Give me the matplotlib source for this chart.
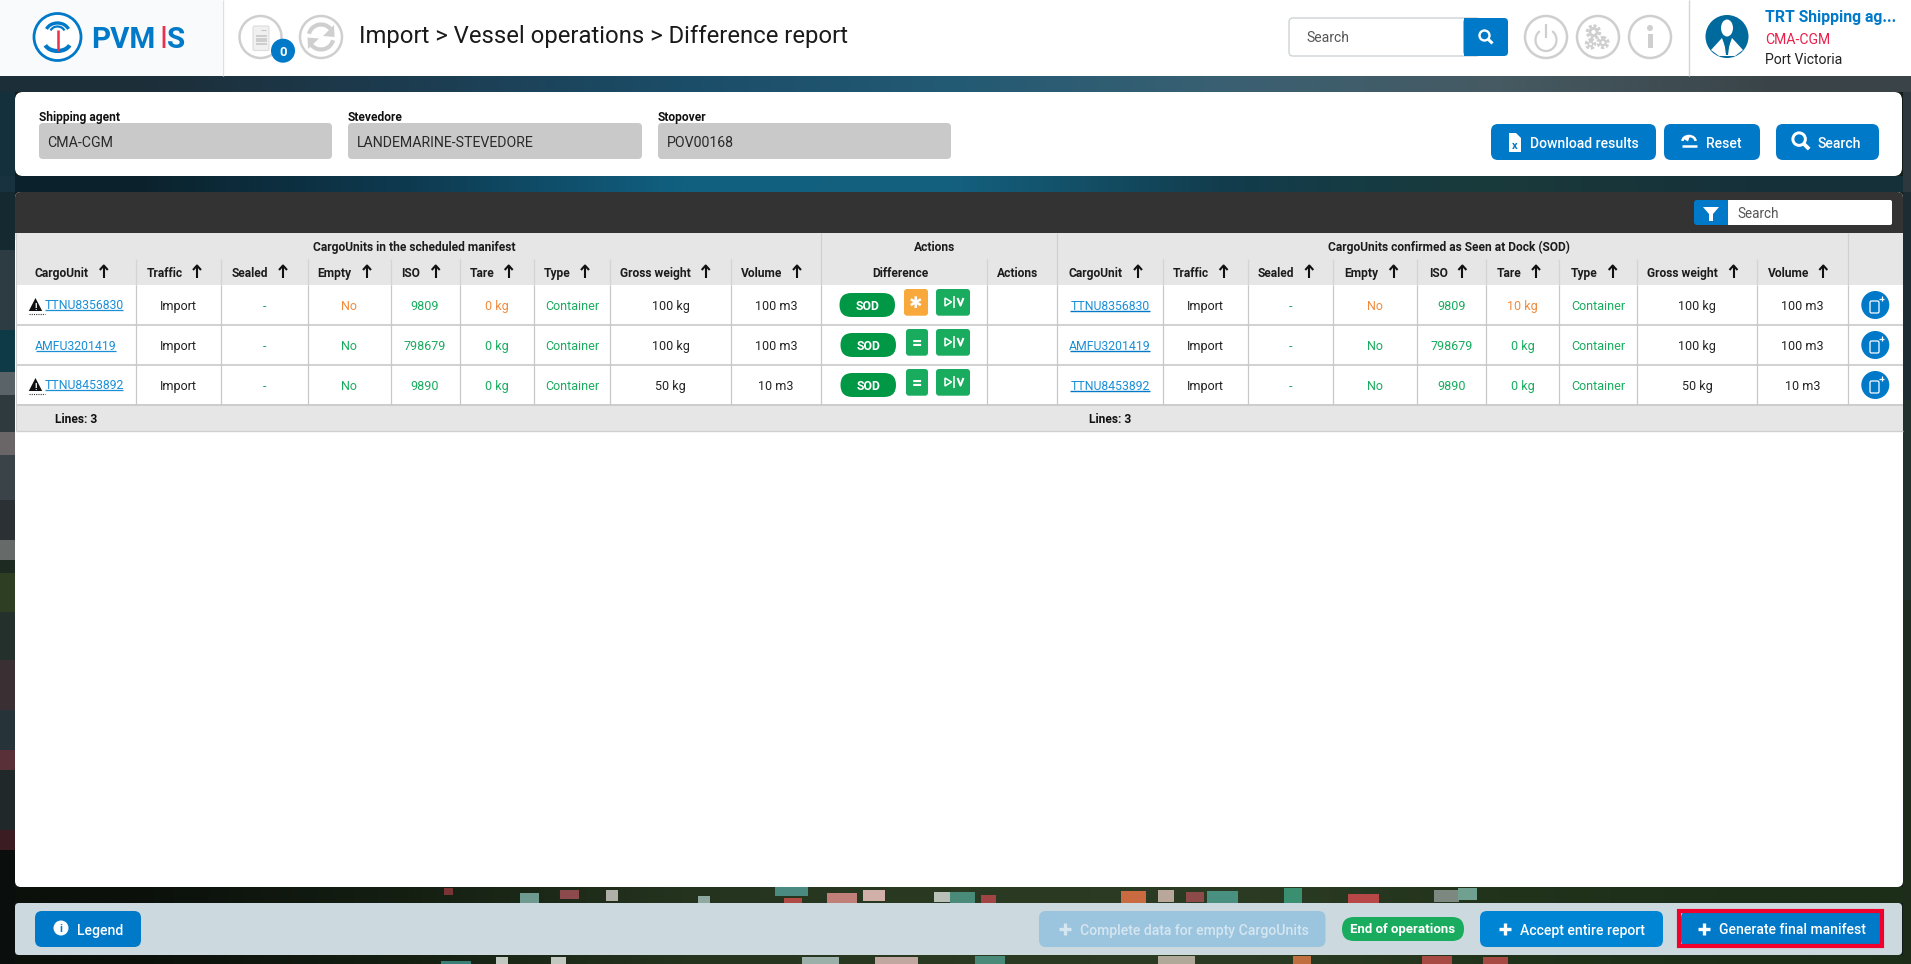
import numpy as np
import matplotlib
matplotlib.use("Agg")
import matplotlib.pyplot as plt
from matplotlib.patches import FancyBboxPatch, Circle, Rectangle, Polygon, Arc, Ellipse

# ---------- content ----------
title = "Import > Vessel operations > Difference report"
filter_labels = ["Shipping agent", "Stevedore", "Stopover"]
filter_values = ["CMA-CGM", "LANDEMARINE-STEVEDORE", "POV00168"]
user_lines = ["TRT Shipping ag...", "CMA-CGM", "Port Victoria"]
top_buttons = ["Download results", "Reset", "Search"]
col_names = ["CargoUnit", "Traffic", "Sealed", "Empty", "ISO", "Tare", "Type", "Gross weight", "Volume"]
group_titles = ["CargoUnits in the scheduled manifest", "Actions", "CargoUnits confirmed as Seen at Dock (SOD)"]

cargo_units = ["TTNU8356830", "AMFU3201419", "TTNU8453892"]
traffic = ["Import", "Import", "Import"]
sealed = ["-", "-", "-"]
empty = ["No", "No", "No"]
iso = ["9809", "798679", "9890"]
tare_left = ["0 kg", "0 kg", "0 kg"]
tare_right = ["10 kg", "0 kg", "0 kg"]
ctype = ["Container", "Container", "Container"]
gross = ["100 kg", "100 kg", "50 kg"]
volume = ["100 m3", "100 m3", "10 m3"]
diff_sign = ["\u2731", "=", "="]
warn = [True, False, True]
empty_state = ["diff", "ok", "ok"]
tare_state = ["diff", "ok", "ok"]

BLUE = "#0079c8"; GREEN = "#19ab5e"; DGREEN = "#009845"; ORANGE = "#f08a3c"
GREY = "#e6e6e6"; LINE = "#c8c8c8"; TXT = "#222222"; LINK = "#1a8fd6"; ICON = "#cfcfcf"

W, H = 1911, 964
fig = plt.figure(figsize=(W/100, H/100), dpi=100)
ax = fig.add_axes([0, 0, 1, 1])
ax.set_xlim(0, W); ax.set_ylim(H, 0); ax.axis("off")
plt.rcParams["font.family"] = ["Roboto", "DejaVu Sans"]

def px(s):
    return s*0.72

def T(x, y, s, size=12.5, color=TXT, ha="center", weight="normal", z=10, **kw):
    return ax.text(x, y, s, fontsize=px(size), color=color, ha=ha, va="center_baseline",
                   fontweight=weight, zorder=z, **kw)

def RR(x0, y0, x1, y1, r=5, fc="white", ec="none", lw=0, z=3, alpha=None):
    p = FancyBboxPatch((x0, y0), x1-x0, y1-y0, boxstyle=f"round,pad=0,rounding_size={r}",
                       fc=fc, ec=ec, lw=lw, zorder=z, alpha=alpha)
    ax.add_patch(p); return p

def R(x0, y0, x1, y1, fc="white", z=2):
    ax.add_patch(Rectangle((x0, y0), x1-x0, y1-y0, fc=fc, ec="none", lw=0, zorder=z))

def L(xs, ys, c=LINE, lw=1.0, z=5, **kw):
    ax.plot(xs, ys, color=c, lw=lw, zorder=z, solid_capstyle=kw.pop("cap", "butt"), **kw)

def magnifier(cx, cy, s=1.0, c="white"):
    ax.add_patch(Circle((cx-1.5*s, cy-1.5*s), 5*s, fc="none", ec=c, lw=1.7*s, zorder=12))
    L([cx+2*s, cx+6.5*s], [cy+2*s, cy+6.5*s], c=c, lw=2.2*s, z=12)

def plus(cx, cy, s=6, lw=2.4, c="white"):
    L([cx-s, cx+s], [cy, cy], c=c, lw=lw, z=12)
    L([cx, cx], [cy-s, cy+s], c=c, lw=lw, z=12)

# ---------- background (coarse colours of the photograph) ----------
hex2 = matplotlib.colors.to_rgb
def band(y0, y1, colours, x0=0, x1=W):
    arr = np.array([[hex2(c) for c in colours]])
    ax.imshow(arr, extent=(x0, x1, y1, y0), aspect="auto", interpolation="bilinear", zorder=0)

R(0, 76, W, H, fc="#121c18", z=-1)
band_top = ["#1c2e38", "#1d3c50", "#1b4d68", "#235a74", "#3a6072", "#465a62", "#3a4448"]
band_mid = ["#0b222c", "#0e3a50", "#116080", "#14607e", "#123c4c", "#1a3a3a", "#16303a"]
band_foot = ["#0b100b", "#141f12", "#24331e", "#2a3a22", "#2c3c24", "#22331c", "#1c2e18"]
band(76, 92, band_top)
band(176, 192, band_mid)
band(887, 903, band_foot)
band(955, 964, band_foot)
ax.set_xlim(0, W); ax.set_ylim(H, 0)

left_y = [92, 176, 192, 250, 330, 372, 395, 432, 455, 500, 540, 560, 573, 612, 660, 710, 750, 770, 830, 850]
left_c = ["#14303c", "#18333f", "#142a30", "#2c3c42", "#0e3a48", "#5a6468", "#2e3a3e", "#6a6668", "#3a4448",
          "#2a3034", "#666a68", "#1c2a22", "#2e3e22", "#23302c", "#3a3034", "#26343a", "#5a3038", "#20282a",
          "#3a1c22", "#0a0e0c"]
for y0, y1, c in zip(left_y, left_y[1:] + [964], left_c):
    R(0, y0, 15, y1, fc=c, z=0.5)
right_y = [92, 192, 400, 600, 800, 900]
right_c = ["#2c383e", "#1c2c32", "#22302e", "#1e2c22", "#1e2c1c", "#1c2c18"]
for y0, y1, c in zip(right_y, right_y[1:] + [964], right_c):
    R(1903, y0, W, y1, fc=c, z=0.5)

roof_x0 = [444, 520, 560, 606, 698, 775, 784, 827, 863, 934, 950, 981, 1121, 1158, 1186, 1207, 1284, 1348, 1434, 1458,
           441, 496, 551, 802, 875, 975, 1158, 1293, 1422, 1483]
roof_x1 = [453, 539, 579, 618, 710, 808, 802, 857, 885, 955, 975, 996, 1146, 1174, 1204, 1238, 1302, 1379, 1459, 1477,
           471, 508, 566, 839, 918, 1005, 1195, 1311, 1452, 1508]
roof_y0 = [888, 893, 890, 890, 896, 887, 898, 893, 890, 892, 892, 895, 891, 890, 892, 891, 888, 894, 890, 888,
           961, 957, 957, 957, 957, 956, 956, 956, 956, 957]
roof_y1 = [895, 903, 899, 901, 903, 896, 903, 903, 901, 902, 903, 903, 903, 902, 902, 903, 903, 903, 902, 900,
           964, 964, 964, 964, 964, 964, 964, 964, 964, 964]
roof_c = ["#7a3434", "#6f9a90", "#8c4a4c", "#b0b0a8", "#8fa8a0", "#4a8a80", "#b04a44", "#c07f78", "#d0b0a8", "#b8c0b8",
          "#4a8a78", "#a04444", "#c96a40", "#b8a79a", "#8e4a48", "#4a9080", "#3a8f70", "#b84848", "#7c8880", "#6fa090",
          "#3a8078", "#c0c8c0", "#c0c8c0", "#9ab0a8", "#c0a8a0", "#4a8a78", "#b0a898", "#c07040", "#a84a44", "#a84a44"]
for x0, x1, y0, y1, c in zip(roof_x0, roof_x1, roof_y0, roof_y1, roof_c):
    R(x0, y0, x1, y1, fc=c, z=1)

# ---------- header ----------
R(0, 0, W, 76, fc="white", z=2)
R(0, 0, 222, 76, fc="#f8fafc", z=2)
L([222.5, 222.5], [0, 76], c="#dde1e5", lw=1)
L([1688.5, 1688.5], [0, 76], c="#d5d5d5", lw=1)
# logo
ax.add_patch(Circle((57.5, 37), 23.5, fc="white", ec=BLUE, lw=2, zorder=4))
ax.add_patch(Arc((57.5, 33), 24, 20, theta1=200, theta2=340, ec=BLUE, lw=2.4, zorder=5))
ax.add_patch(Arc((57.5, 33), 15, 13, theta1=200, theta2=340, ec=BLUE, lw=1.6, zorder=5))
ax.add_patch(Arc((57.5, 42), 26, 18, theta1=15, theta2=165, ec=BLUE, lw=3, zorder=5))
L([57.5, 57.5], [30, 51], c="#e8314f", lw=1.8)
T(91.5, 37, "PVM", size=29.5, color=BLUE, ha="left", weight="bold")
R(162, 26, 166, 48, fc="#f4a9b5", z=6); R(163.4, 26, 164.6, 48, fc="#e8314f", z=7)
T(167.5, 37, "S", size=29.5, color=BLUE, ha="left", weight="bold")

for cx in [260.5, 321, 1546, 1598, 1650]:
    ax.add_patch(Circle((cx, 37), 21, fc="white", ec=ICON, lw=1.8, zorder=4))
# doc icon
RR(253, 26, 269, 50.5, r=1.5, fc="#f0f0f0", ec="#dddddd", lw=0.8, z=5)
L([261, 266], [29.5, 29.5], c="#c8c8c8", lw=0.8, z=6)
for yy in [36, 38.5, 41, 43.5]:
    L([255.5, 266.5], [yy, yy], c="#c4c4c4", lw=1.1, z=6)
ax.add_patch(Circle((283, 50.7), 12, fc=BLUE, ec="none", zorder=7))
T(283, 51, "0", size=13, color="white", weight="bold", z=12)
# refresh
ax.add_patch(Arc((321, 37), 25, 25, theta1=195, theta2=320, ec=ICON, lw=3, zorder=5))
ax.add_patch(Arc((321, 37), 25, 25, theta1=15, theta2=140, ec=ICON, lw=3, zorder=5))
ax.add_patch(Polygon([[334, 25], [334.5, 37], [323, 36]], fc=ICON, ec="none", zorder=5))
ax.add_patch(Polygon([[308, 49], [307.5, 37.5], [319, 38.5]], fc=ICON, ec="none", zorder=5))
T(359.3, 34, title, size=23.9, color="#1a1a1a", ha="left")
# search
RR(1289, 18, 1480, 56, r=4, fc="white", ec="#cfd3d6", lw=1, z=4)
RR(1463.5, 18, 1508, 56, r=4, fc=BLUE, z=5); R(1463.5, 18, 1472, 56, fc=BLUE, z=5)
magnifier(1486, 37)
T(1306, 37, "Search", size=14, color="#555555", ha="left")
# power
ax.add_patch(Arc((1546, 40), 21, 22, theta1=-55, theta2=235, ec=ICON, lw=1.6, zorder=5))
L([1546, 1546], [24, 38], c=ICON, lw=1.6)
# gears
for cx, cy, r in [(1593.5, 32, 5.0), (1590.5, 44, 3.0), (1603, 42.5, 3.8)]:
    ax.add_patch(Circle((cx, cy), r+1.2, fc="none", ec=ICON, lw=2.2, ls=(0, (1.0, 0.6)), zorder=5))
    ax.add_patch(Circle((cx, cy), r, fc=ICON, ec="none", zorder=5))
    ax.add_patch(Circle((cx, cy), r*0.42, fc="white", ec="none", zorder=6))
# info
ax.add_patch(Circle((1650, 28), 3, fc=ICON, ec="none", zorder=5))
R(1647.5, 34, 1652.5, 48, fc=ICON, z=5)
# avatar
ax.add_patch(Circle((1727, 36.5), 21.5, fc="#006a9c", ec="none", zorder=4))
ax.add_patch(Ellipse((1727, 28), 12, 17, fc="white", ec="none", zorder=5))
ax.add_patch(Polygon([[1711, 50], [1722, 38], [1727, 52], [1732, 38], [1743, 50], [1735, 56], [1719, 56]],
                     fc="white", ec="none", zorder=5))
ax.add_patch(Polygon([[1724, 40], [1730, 40], [1728, 55], [1726, 55]], fc="#006a9c", ec="none", zorder=6))
T(1765, 16, user_lines[0], size=15.7, color=BLUE, ha="left", weight="bold")
T(1765, 38, user_lines[1], size=14, color="#e8204a", ha="left")
T(1765, 59, user_lines[2], size=14, color=TXT, ha="left")

# ---------- filter panel ----------
RR(15, 92, 1902, 176, r=8, fc="white", z=2)
for x0, x1, lab, val in zip([39, 348, 658], [332, 642, 951], filter_labels, filter_values):
    T(x0, 116, lab, size=12, color="#111111", ha="left", weight="bold")
    RR(x0, 123, x1, 159, r=4, fc="#c9c9c9", z=4)
    T(x0+8.5, 141.5, val, size=14.1, color="#2a2a2a", ha="left")
for x0, x1, lab, tx in zip([1491, 1664, 1776], [1656, 1760, 1879], top_buttons, [1529.5, 1706, 1817]):
    RR(x0, 124, x1, 160, r=7, fc=BLUE, z=4)
    T(tx, 142, lab, size=14, color="white", ha="left", weight="medium")
# download icon
ax.add_patch(Polygon([[1509, 133], [1516, 133], [1521, 138], [1521, 152], [1509, 152]], fc="white", ec="none", zorder=6))
T(1515, 145, "x", size=11, color=BLUE, weight="bold", z=12)
# reset icon
ax.add_patch(Arc((1689, 141), 13, 10, theta1=180, theta2=360, ec="white", lw=1.8, zorder=6))
ax.add_patch(Polygon([[1682, 138], [1690, 136], [1688, 141.5]], fc="white", ec="none", zorder=6))
L([1682, 1697], [146, 146], c="white", lw=1.8, z=6)
magnifier(1801, 141, s=1.25)

# ---------- table ----------
RR(15, 192, 1903, 887, r=6, fc="white", z=2)
RR(15, 192, 1903, 240, r=6, fc="#333333", z=3)
R(15, 233, 1903, 240, fc=GREY, z=3)
R(16, 233, 1903, 285, fc=GREY, z=3)
R(16, 404, 1903, 431, fc=GREY, z=3)
RR(1694, 200, 1735, 225, r=3, fc=BLUE, z=4)
RR(1728, 200, 1892, 225, r=2, fc="white", z=5); R(1728, 200, 1735, 225, fc="white", z=5)
ax.add_patch(Polygon([[1703, 207], [1719, 207], [1713, 214], [1713, 221], [1709, 221], [1709, 214]], fc="white", ec="none", zorder=6))
T(1737, 213, "Search", size=13.5, color="#555555", ha="left")

edges_l = [16.4, 135.5, 220.7, 307.6, 390.7, 459.5, 533.6, 610.4, 730.5, 821.4]
edges_m = [821.4, 987, 1057.2]
edges_r = [1057.2, 1162.5, 1247.5, 1333, 1417.4, 1486.3, 1559.3, 1636.6, 1757.3, 1848]
row_cy = [305, 345, 385]

# grid
for x in edges_l[1:] + edges_m[1:] + edges_r[1:]:
    L([x, x], [285, 404.5], lw=0.9)
for x in edges_l[1:-1] + [edges_m[1]] + edges_r[1:-1]:
    L([x, x], [259, 285], c="#d4d4d4", lw=0.9)
for x in [821.4, 1057.2, 1848]:
    L([x, x], [233, 285], c="#d0d0d0", lw=0.9)
for y in [324.5, 364.5, 404.5]:
    L([16, 1903], [y, y], c="#c9c9c9", lw=1.2)
L([16, 1903], [431.3, 431.3], c="#cfcfcf", lw=1)
L([16.4, 16.4], [233, 431], c="#cfcfcf", lw=0.8)

HS = 12.05
T(414.5, 246, group_titles[0], size=HS, color="#1c1c1c", weight="bold")
T(935, 246, group_titles[1], size=HS, color="#1c1c1c", weight="bold")
T(1449, 246, group_titles[2], size=HS, color="#1c1c1c", weight="bold")
T(900, 272, "Difference", size=HS, color="#1c1c1c", weight="bold")
T(1018, 272, "Actions", size=HS, color="#1c1c1c", weight="bold")

hl = [34.4, 146.6, 231.3, 317.6, 400.7, 470, 544, 620.4, 741]
al = [103.8, 197, 283, 367, 435.7, 508.7, 585, 705.7, 797]
hr = [1068.4, 1173, 1258, 1344.4, 1428.7, 1496.8, 1571.2, 1647, 1767.9]
ar = [1138, 1223.6, 1309.3, 1393.6, 1462.4, 1536, 1612.7, 1733.5, 1823.3]
def arrow(x, y=272):
    L([x, x], [y-6, y+6], c="#111111", lw=1.5, z=11)
    L([x-4, x, x+4], [y-2, y-6.5, y-2], c="#111111", lw=1.5, z=11)
for xs, arr in [(hl, al), (hr, ar)]:
    for x, a, name in zip(xs, arr, col_names):
        T(x, 272, name, size=HS, color="#1c1c1c", ha="left", weight="bold")
        arrow(a)

def centers(e):
    return [(a+b)/2 for a, b in zip(e[:-1], e[1:])]
cl = centers(edges_l); cr = centers(edges_r)

for i, cy in enumerate(row_cy):
    # left table
    if warn[i]:
        ax.add_patch(Polygon([[28.8, cy+6], [35.5, cy-7], [42.2, cy+6]], fc="#111111", ec="none", zorder=9))
        T(35.5, cy+1.5, "!", size=9, color="white", weight="bold", z=11)
        L([29, 45], [cy+8.5, cy+8.5], c="#333333", lw=0.8, ls=(0, (1, 1)))
        T(84, cy-1, cargo_units[i], size=12.2, color=LINK)
        L([45, 123], [cy+4.5, cy+4.5], c=LINK, lw=0.9, z=9)
    else:
        T(75.6, cy, cargo_units[i], size=12.2, color=LINK)
        L([36, 115.5], [cy+5.5, cy+5.5], c=LINK, lw=0.9, z=9)
    ecol = ORANGE if empty_state[i] == "diff" else GREEN
    tcol = ORANGE if tare_state[i] == "diff" else GREEN
    vals_l = [traffic[i], sealed[i], empty[i], iso[i], tare_left[i], ctype[i], gross[i], volume[i]]
    cols = [TXT, GREEN, ecol, GREEN, tcol, GREEN, TXT, TXT]
    for c, v, col in zip(cl[1:], vals_l, cols):
        T(c, cy, v, color=col)
    # middle
    sx = 839.5 if i == 0 else 840.5
    RR(sx, cy-12, sx+55.5, cy+12, r=12, fc=DGREEN, z=6)
    T(sx+28, cy, "SOD", size=12.3, color="white", weight="bold", z=12)
    is_star = diff_sign[i] != "="
    sc = "#f9a93c" if is_star else GREEN
    RR(904 if is_star else 906, cy-16, 928, cy+10.7, r=3, fc=sc, z=6)
    T(916 if is_star else 917, cy-2.5, diff_sign[i], size=16 if is_star else 18, color="white", weight="bold", z=12,
      family=["DejaVu Sans"] if is_star else ["Roboto"])
    RR(936, cy-16, 970, cy+10.7, r=3, fc=GREEN, z=6)
    # play / bar / check glyph
    ax.add_patch(Polygon([[945, cy-7], [945, cy+1], [951.5, cy-3]], fc="none", ec="white", lw=1.1, zorder=12))
    L([954, 954], [cy-9, cy+3], c="white", lw=1.1, z=12)
    L([957.5, 960.5, 963.5], [cy-7, cy+0.5, cy-7], c="white", lw=1.5, z=12)
    # right table
    T(1110, cy, cargo_units[i], size=12.2, color=LINK)
    L([1070, 1150], [cy+5.5, cy+5.5], c=BLUE, lw=1, z=9)
    vals_r = [traffic[i], sealed[i], empty[i], iso[i], tare_right[i], ctype[i], gross[i], volume[i]]
    for c, v, col in zip(cr[1:], vals_r, cols):
        T(c, cy, v, color=col)
    # round button
    ax.add_patch(Circle((1875.3, cy), 14, fc=BLUE, ec="none", zorder=6))
    RR(1870, cy-4, 1879, cy+8, r=1.5, fc="none", ec="white", lw=0.9, z=7)
    plus(1881.5, cy-6.5, s=2.5, lw=0.9)

T(76, 418, "Lines: 3", size=HS, color="#111111", weight="bold")
T(1110, 418, "Lines: 3", size=HS, color="#111111", weight="bold")

# ---------- bottom bar ----------
RR(15, 903, 1902, 955, r=4, fc="#ccdae0", z=2)
RR(35, 911, 141, 947, r=7, fc=BLUE, z=4)
ax.add_patch(Circle((61, 928), 7.5, fc="white", ec="none", zorder=6))
T(61, 928, "i", size=11, color=BLUE, weight="bold", z=12)
T(77, 929, "Legend", size=14, color="white", ha="left", weight="medium")
RR(1039, 911, 1325.5, 947, r=7, fc="#9bc4de", z=4)
plus(1064.5, 929, c="#d6e6f0")
T(1079.5, 929, "Complete data for empty CargoUnits", size=14, color="#d6e6f0", ha="left", weight="medium")
RR(1342, 917, 1464, 941, r=12, fc=GREEN, z=4)
T(1403, 928, "End of operations", size=13.2, color="white", weight="bold")
RR(1480, 911, 1663, 947, r=7, fc="#0085d5", z=4)
plus(1505, 929)
T(1520, 929, "Accept entire report", size=14, color="white", ha="left", weight="medium")
RR(1681, 911, 1882, 947, r=7, fc=BLUE, z=4)
ax.add_patch(Rectangle((1678.5, 910.5), 203, 35, fc="none", ec="#f0002d", lw=3, zorder=8))
plus(1704, 929)
T(1719, 929, "Generate final manifest", size=14, color="white", ha="left", weight="medium")

fig.savefig("out.png", dpi=100)
